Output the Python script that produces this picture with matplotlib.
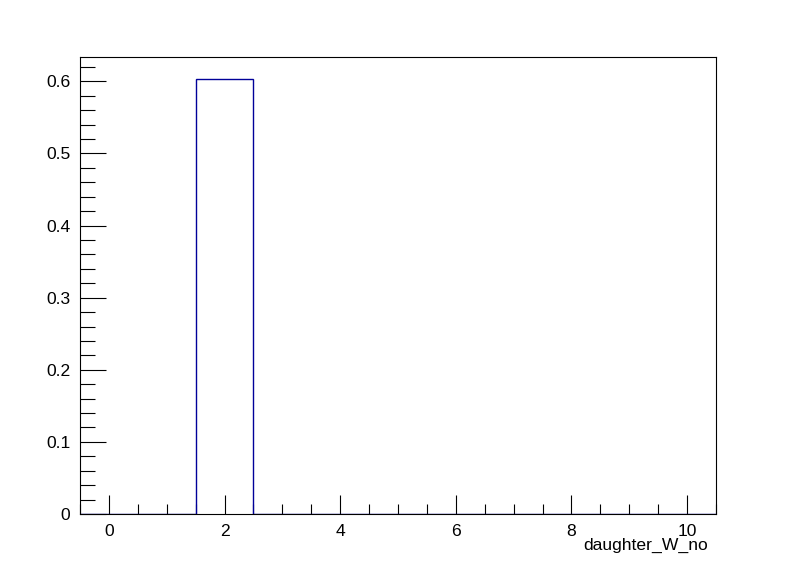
import matplotlib
matplotlib.use("Agg")
import matplotlib.pyplot as plt
from matplotlib.ticker import MultipleLocator

plt.rcParams["font.family"] = ["Liberation Sans", "DejaVu Sans"]

# histogram: 11 bins of width 1 from -0.5 to 10.5
EDGES = [i - 0.5 for i in range(12)]
COUNTS = [0, 0, 0.6036, 0, 0, 0, 0, 0, 0, 0, 0]
XLABEL = "daughter_W_no"
LINE = "#000099"

fig = plt.figure(figsize=(7.96, 5.72), dpi=100)
ax = fig.add_axes([0.1005, 0.1014, 0.799, 0.799])

ax.stairs(COUNTS, EDGES, color=LINE, lw=1.0, zorder=2)

ax.set_xlim(-0.5, 10.5)
ax.set_ylim(0, max(COUNTS) * 1.05)
ax.xaxis.set_major_locator(MultipleLocator(2))
ax.xaxis.set_minor_locator(MultipleLocator(0.5))
ax.yaxis.set_major_locator(MultipleLocator(0.1))
ax.yaxis.set_minor_locator(MultipleLocator(0.02))
ax.yaxis.set_major_formatter(matplotlib.ticker.FuncFormatter(
    lambda v, p: "0" if abs(v) < 1e-9 else f"{v:.1f}"))

ax.tick_params(axis="both", which="both", direction="in", top=False, right=False,
               labelsize=12.6, width=0.8, color="black")
ax.tick_params(axis="x", which="major", length=13.5, pad=7)
ax.tick_params(axis="x", which="minor", length=7)
ax.tick_params(axis="y", which="major", length=19, pad=7)
ax.tick_params(axis="y", which="minor", length=10.5)
for s in ax.spines.values():
    s.set_linewidth(0.8)
    s.set_zorder(3)

fig.text(708 / 796, 1 - 545 / 572, XLABEL, ha="right", va="center", fontsize=12.6)

fig.savefig("out.png", dpi=100, facecolor="white")
